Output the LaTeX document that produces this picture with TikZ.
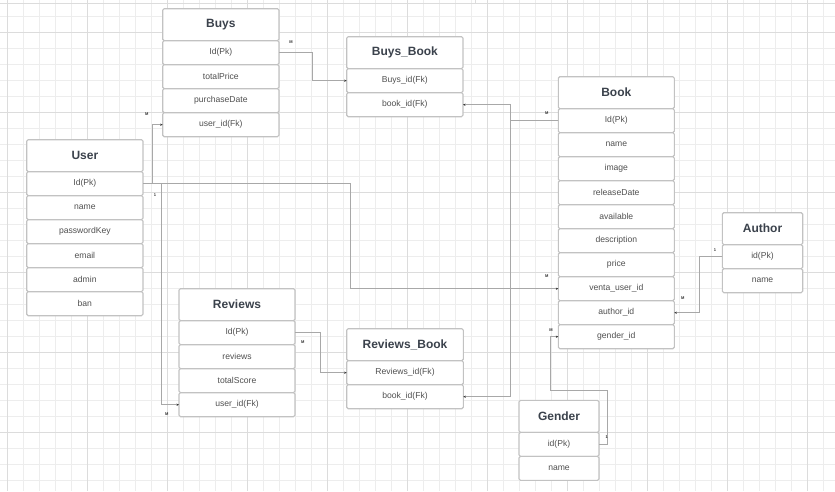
\documentclass[tikz,border=0pt]{standalone}
\usepackage{fontspec}
\setmainfont{Liberation Sans}
\usetikzlibrary{arrows.meta,calc}
\definecolor{gridminor}{HTML}{EDEDED}
\definecolor{gridmajor}{HTML}{DCDCDC}
\definecolor{boxline}{HTML}{C2C2C2}
\definecolor{hdrtext}{HTML}{3B424C}
\definecolor{fldtext}{HTML}{505050}
\definecolor{connline}{HTML}{A8A8A8}
\definecolor{tiptext}{HTML}{333333}
\newcommand\erTable[6]{%
  \node[hdr, minimum width=#4, anchor=north west] (#1-h) at (#2,#3) {#5};
  \foreach \f [count=\i] in {#6} {
    \node[fld, minimum width=#4, anchor=north west] (#1-\i) at (#2,#3+8+24*\i) {\f};
  }%
}
\begin{document}
\begin{tikzpicture}[x=1pt,y=-1pt,
  hdr/.style={draw=boxline, fill=white, line width=1.1pt, rounded corners=1.5pt, minimum height=32pt, inner sep=0pt, outer sep=0pt, font=\fontsize{12}{14}\selectfont\bfseries, text=hdrtext},
  fld/.style={draw=boxline, fill=white, line width=1.1pt, rounded corners=1.5pt, minimum height=24pt, inner sep=0pt, outer sep=0pt, font=\fontsize{8.6}{10}\selectfont, text=fldtext},
  conn/.style={draw=connline, line width=0.9pt, -{Stealth[length=2.5pt,width=2.2pt,color=tiptext]}},
  card/.style={font=\fontsize{4}{4}\selectfont\bfseries, text=tiptext, inner sep=0pt}]
\useasboundingbox (0,0) rectangle (835,491);
\fill[white] (0,0) rectangle (835,491);
% grid
\foreach \k in {0,...,51} {\draw[gridminor, line width=0.7pt] (7.3+16*\k,0) -- (7.3+16*\k,491);}
\foreach \k in {1,...,30} {\draw[gridminor, line width=0.7pt] (0,0.3+16*\k) -- (835,0.3+16*\k);}
\foreach \k in {0,...,10} {\draw[gridmajor, line width=0.8pt] (7.3+80*\k,0) -- (7.3+80*\k,491);}
\foreach \k in {0,...,5} {\draw[gridmajor, line width=0.8pt] (0,32.3+80*\k) -- (835,32.3+80*\k);}
\draw[gridmajor, line width=0.8pt] (0,3.3) -- (835,3.3);
\draw[gridmajor, line width=0.8pt] (475.7,0) -- (475.7,3.3);
% tables
\erTable{buys}{162.7}{8.7}{116.3pt}{Buys}{Id(Pk),totalPrice,purchaseDate,user\_id(Fk)}
\erTable{bb}{346.7}{36.7}{116.3pt}{Buys\_Book}{Buys\_id(Fk),book\_id(Fk)}
\erTable{book}{558.3}{76.7}{116pt}{Book}{Id(Pk),name,image,releaseDate,available,description,price,venta\_user\_id,author\_id,gender\_id}
\erTable{auth}{722.3}{212.7}{80.4pt}{Author}{id(Pk),name}
\erTable{user}{26.7}{139.7}{116.3pt}{User}{Id(Pk),name,passwordKey,email,admin,ban}
\erTable{rev}{179}{288.7}{116pt}{Reviews}{Id(Pk),reviews,totalScore,user\_id(Fk)}
\erTable{rb}{346.7}{328.7}{116.6pt}{Reviews\_Book}{Reviews\_id(Fk),book\_id(Fk)}
\erTable{gen}{519}{400.3}{80pt}{Gender}{id(Pk),name}
% connectors
\draw[conn] (buys-1.east) -- ++(33.7,0) |- (bb-1.west);
\draw[conn] (user-1.east) -- ++(9.7,0) |- (buys-4.west);
\draw[conn] (user-1.east) -- ++(18,0) |- (rev-4.west);
\draw[conn] (user-1.east) -- ++(207.7,0) |- (book-8.west);
\draw[conn] (rev-1.east) -- ++(25.7,0) |- (rb-1.west);
\draw[conn] (book-1.west) -- ++(-47.6,0) |- (bb-2.east);
\draw[conn] (book-1.west) -- ++(-47.6,0) |- (rb-2.east);
\draw[conn] (auth-1.west) -- ++(-23.3,0) |- (book-9.east);
\draw[conn] (gen-1.east) -- ++(8,0) -- ++(0,-53.6) -| ($(book-10.west)+(-7.6,0)$) -- (book-10.west);
% cardinalities
\node[card] (c1) at (291,42) {M};
\node[card] (c2) at (146.7,114) {M};
\node[card] (c3) at (155,195) {1};
\node[card] (c4) at (166.7,414) {M};
\node[card] (c5) at (546.7,275.7) {M};
\node[card] (c6) at (302.7,342) {M};
\node[card] (c7) at (546.7,113.3) {M};
\node[card] (c8) at (715,250) {1};
\node[card] (c9) at (682.7,298.3) {M};
\node[card] (c10) at (606.7,437.3) {1};
\node[card] (c11) at (551,330) {M};
\end{tikzpicture}
\end{document}
